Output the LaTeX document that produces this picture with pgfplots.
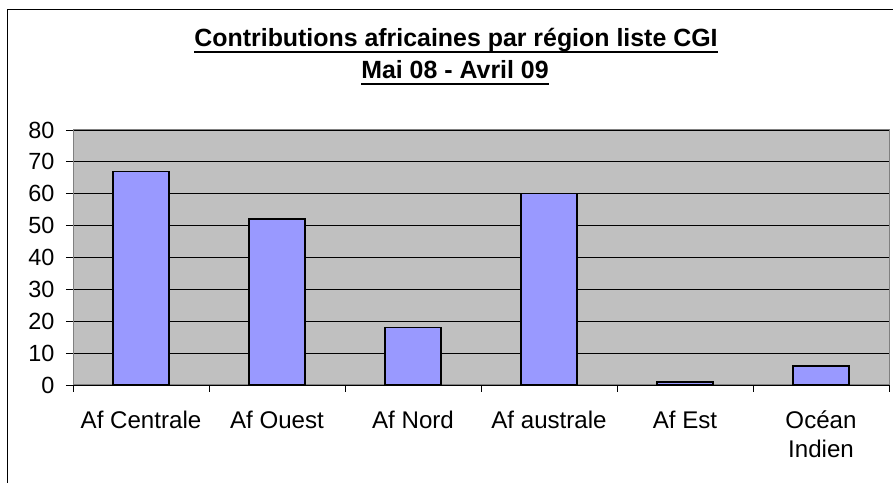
\documentclass[border=0pt]{standalone}
\usepackage{pgfplots}
\pgfplotsset{compat=1.18}
\usepackage{fontspec}
\setmainfont{Liberation Sans}

\definecolor{barblue}{HTML}{9999FF}
\definecolor{plotgray}{HTML}{C0C0C0}
\definecolor{framegray}{HTML}{808080}

% thicker underline as in the spreadsheet title
\newcommand\ul[1]{\setbox0\hbox{#1}\rlap{\rule[-6.5bp]{\wd0}{2bp}}\box0}
\newcommand\st{\rule{0pt}{19bp}}

\begin{document}
\begin{tikzpicture}[x=1bp,y=1bp]
\useasboundingbox (0,0) rectangle (893,483);
% outer chart frame (cut at right and bottom like the reference)
\begin{scope}
  \clip (0,0) rectangle (893,483);
  \draw[line width=1.5bp] (7.5,-20) -- (7.5,473.5) -- (930,473.5);
\end{scope}

% title, two underlined lines
\node[anchor=base, font=\fontsize{25}{29}\selectfont\bfseries]
  at (456,436.3) {\ul{Contributions africaines par région liste CGI}};
\node[anchor=base, font=\fontsize{25}{29}\selectfont\bfseries]
  at (455,404.7) {\ul{Mai 08 - Avril 09}};

\begin{axis}[
    at={(73bp,98bp)}, anchor=south west,
    width=816bp, height=255bp, scale only axis,
    xmin=-0.5, xmax=5.5,
    ymin=0, ymax=80,
    ytick={0,10,...,80},
    xtick={-0.5,0.5,...,5.5},
    xticklabels={},
    extra x ticks={0,1,2,3,4,5},
    extra x tick labels={\st Af Centrale,\st Af Ouest,\st Af Nord,\st Af australe,\st Af Est,{\st Océan\\Indien}},
    extra x tick style={major tick length=0pt, grid=none,
        xticklabel style={align=center, anchor=north, yshift=-21bp,
          font=\fontsize{24.2}{29.5}\selectfont}},
    xtick pos=bottom, ytick pos=left,
    tick align=outside,
    major tick length=7bp,
    tick style={black, line width=0.8bp},
    tick label style={font=\fontsize{23.5}{28.7}\selectfont},
    /pgf/number format/assume math mode=true,
    yticklabel style={xshift=-8bp},
    ymajorgrids=true,
    grid style={black, line width=0.8bp},
    axis background/.style={fill=plotgray},
    axis line style={framegray, line width=1bp},
]
\addplot[ybar, fill=barblue, draw=black, line width=1.5bp, bar width=56bp]
    coordinates {(0,67) (1,52) (2,18) (3,60) (4,1) (5,6)};
\end{axis}
\end{tikzpicture}
\end{document}
